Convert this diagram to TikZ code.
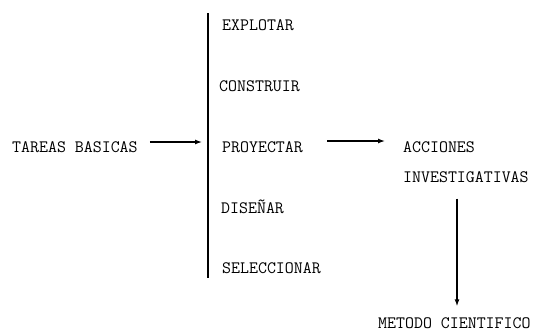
\documentclass[tikz,border=0pt]{standalone}
\usepackage{fontspec}
\usetikzlibrary{arrows.meta}
\begin{document}
\begin{tikzpicture}[
                x=1pt, y=-1pt, % coordenadas en pixeles
                texto/.style={anchor=west, inner sep=0pt, font=\ttfamily\fontsize{17.4}{20}\selectfont},
                flecha/.style={-{Latex[length=7pt,width=5pt]}, line width=1.3pt},
                barra/.style={line width=2.8pt},
            ]
            \useasboundingbox (0,0) rectangle (540,332);
            % tareas basicas
            \node[texto] (tareas) at (12,147) {TAREAS BASICAS};
            % barra con las tareas
            \coordinate (barriba) at (208,13);
            \coordinate (babajo) at (208,278);
            \draw[barra] (barriba) -- (babajo);
            \node[texto] (explotar) at (222,25) {EXPLOTAR};
            \node[texto] (construir) at (219,86) {CONSTRUIR};
            \node[texto] (proyectar) at (222,147) {PROYECTAR};
            \node[texto] (disenar) at (221,207) {DISEÑAR};
            \node[texto] (seleccionar) at (222,268) {SELECCIONAR};
            % acciones
            \node[texto] (acciones) at (403,147) {ACCIONES};
            \node[texto] (investig) at (403,177) {INVESTIGATIVAS};
            \node[texto] (metodo) at (378,323) {METODO CIENTIFICO};
            % flechas
            \coordinate (eje) at (457,0);
            \draw[flecha, shorten <=12pt, shorten >=6pt] ([yshift=5pt]tareas.east) -- ([yshift=5pt]tareas.east -| barriba);
            \draw[flecha, shorten <=24pt, shorten >=18pt] ([yshift=6pt]proyectar.east) -- ([yshift=6pt]proyectar.east -| acciones.west);
            \draw[flecha, shorten <=16pt, shorten >=11pt] (investig.south -| eje) -- (metodo.north -| eje);
            \end{tikzpicture}
\end{document}
